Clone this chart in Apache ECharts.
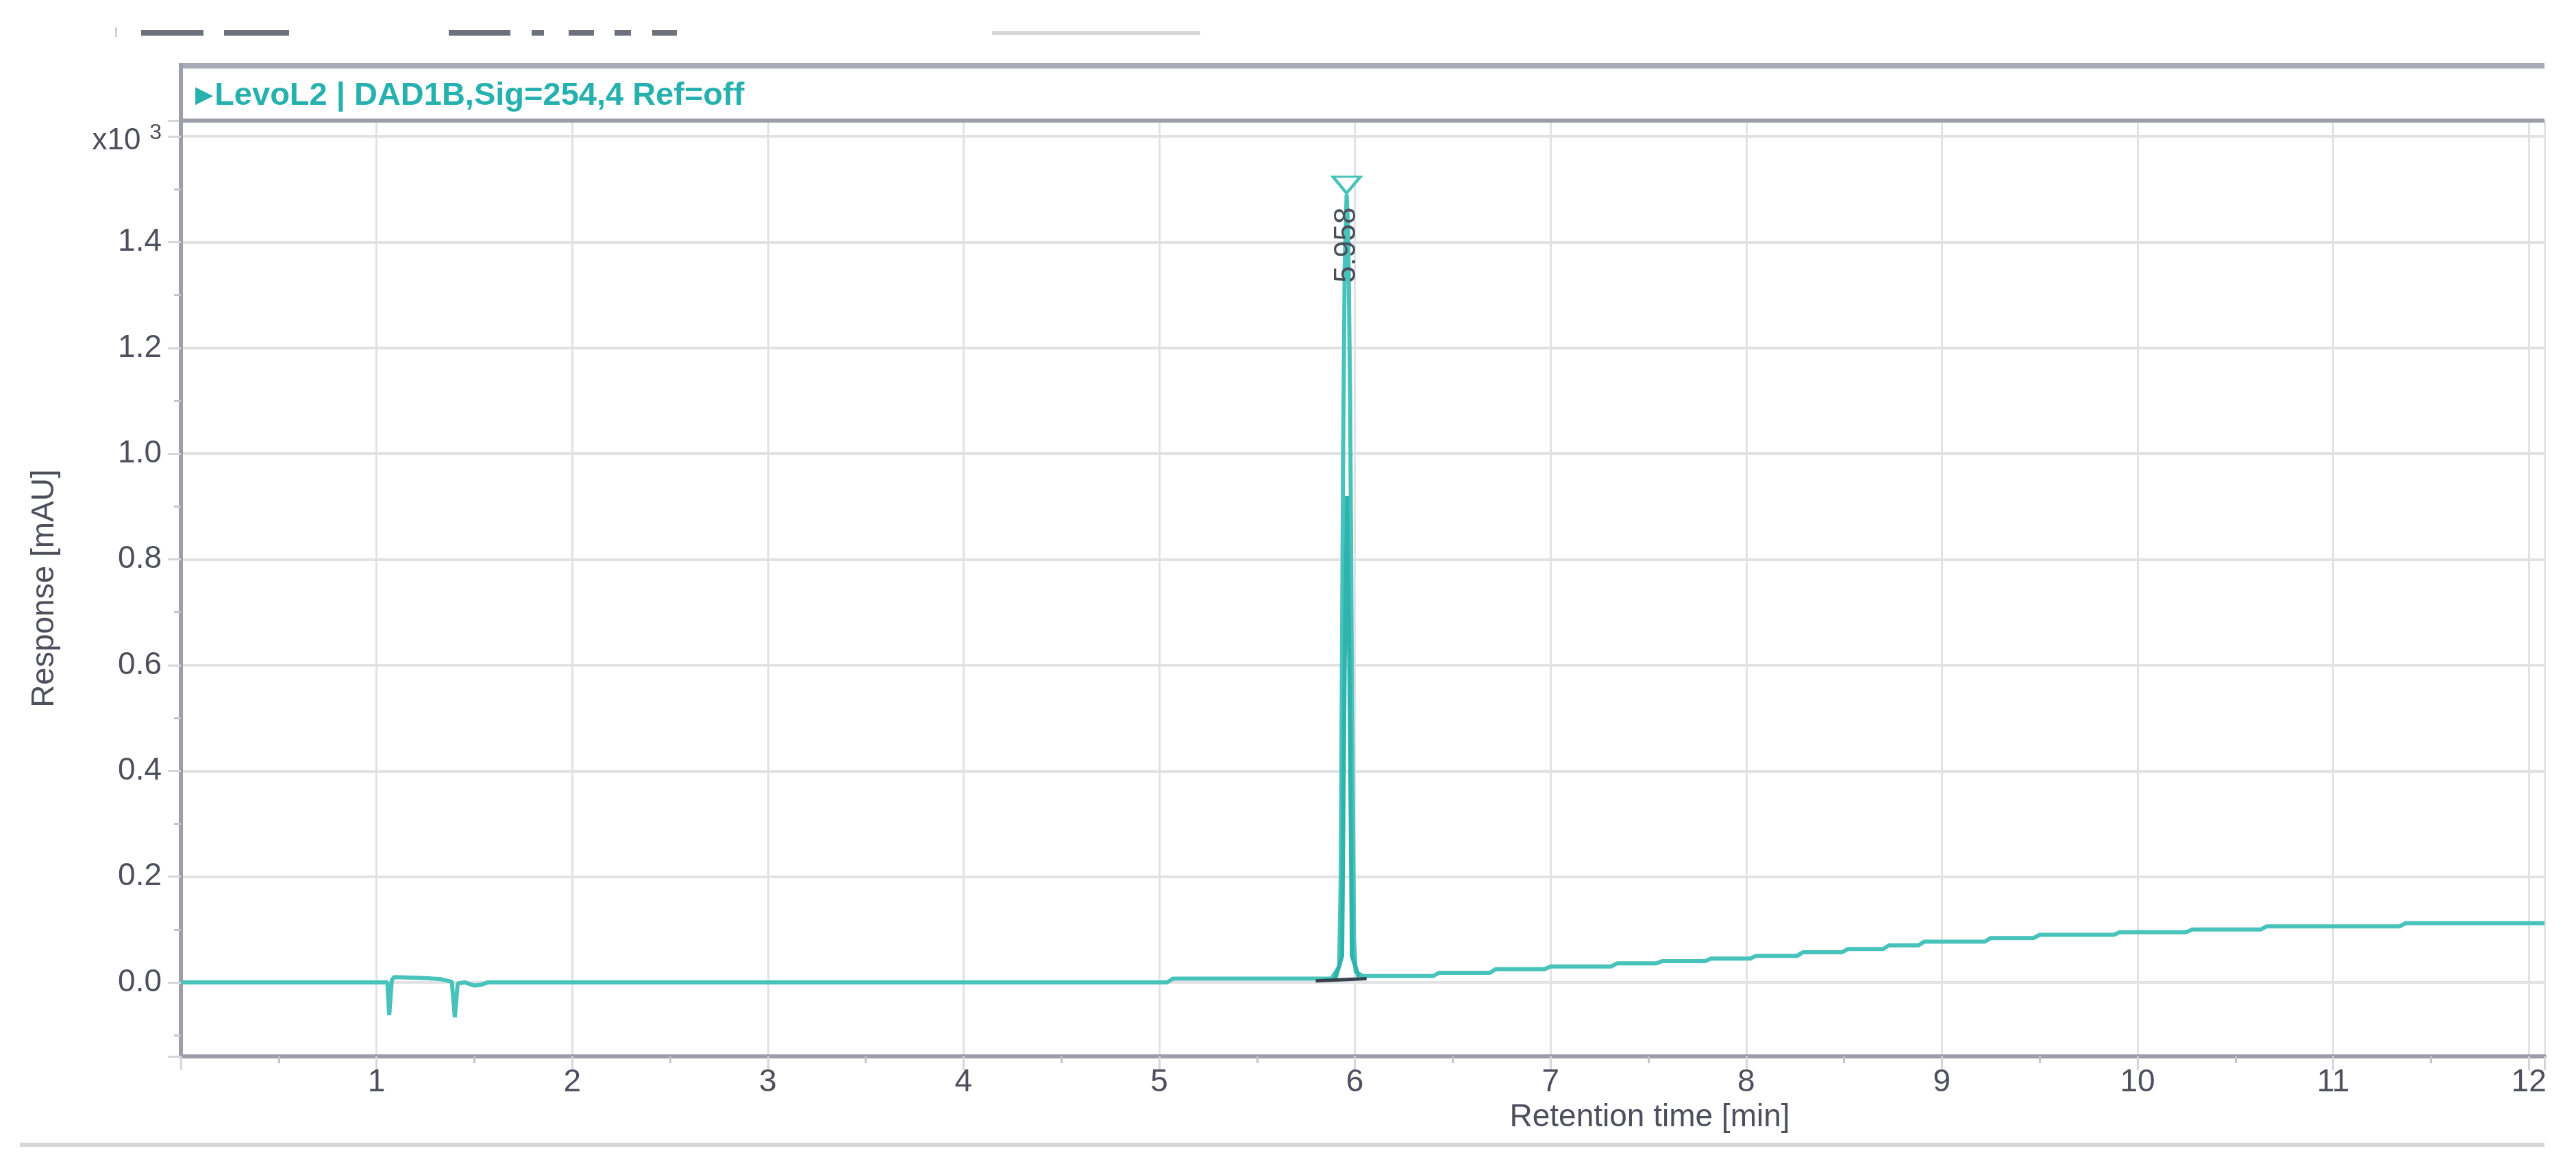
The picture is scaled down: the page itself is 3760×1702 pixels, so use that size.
<!DOCTYPE html>
<html>
<head>
<meta charset="utf-8">
<title>LevoL2 chromatogram</title>
<script src="https://cdn.jsdelivr.net/npm/echarts@6/dist/echarts.min.js"></script>
<style>
    html, body { margin: 0; padding: 0; background: #fff; }
    #chart { width: 3760px; height: 1702px; }
</style>
</head>
<body>
<div id="chart"></div>
<script>
// signal trace DAD1B, retention time [min] / response [x10^3 mAU]
const traceTime = [
    0, 1.055, 1.065, 1.078, 1.09, 1.25, 1.33, 1.385, 1.40, 1.415,
    1.45, 1.50, 1.53, 1.57, 5.04, 5.07, 5.88, 5.92, 5.928, 5.94,
    5.948, 5.958, 5.966, 5.976, 5.986, 5.996, 6.004, 6.04, 6.40, 6.43,
    6.69, 6.72, 6.97, 7.00, 7.31, 7.34, 7.54, 7.57, 7.79, 7.82,
    8.02, 8.05, 8.26, 8.29, 8.49, 8.52, 8.70, 8.73, 8.88, 8.91,
    9.22, 9.25, 9.47, 9.50, 9.88, 9.91, 10.25, 10.28, 10.63, 10.66,
    11.34, 11.37, 12.08
];
const traceResp = [
    0, 0, -0.062, 0.004, 0.010, 0.008, 0.006, 0.001, -0.066, -0.002,
    0, -0.006, -0.005, 0, 0, 0.007, 0.007, 0.03, 0.2, 1.0,
    1.35, 1.49, 1.42, 1.1, 0.5, 0.08, 0.02, 0.012, 0.012, 0.018,
    0.018, 0.025, 0.025, 0.030, 0.030, 0.036, 0.036, 0.040, 0.040, 0.045,
    0.045, 0.050, 0.050, 0.057, 0.057, 0.063, 0.063, 0.070, 0.070, 0.077,
    0.077, 0.084, 0.084, 0.090, 0.090, 0.095, 0.095, 0.100, 0.100, 0.106,
    0.106, 0.112, 0.112
];
// inner (overlaid) peak trace
const overlayTime = [5.90, 5.935, 5.948, 5.960, 5.972, 5.985, 6.02];
const overlayResp = [0.007, 0.05, 0.6, 0.92, 0.6, 0.05, 0.010];
// integration baseline under the peak
const integTime = [5.80, 6.06];
const integResp = [0.003, 0.007];

const peakTime = 5.958;
const peakApex = 1.49;
const peakLabel = '5.958';

const xMin = 0, xMax = 12.08;
const yMin = -0.14, yMax = 1.63;
const yMultiplierValue = 1.6; // this tick shows "x10 3" instead of a number

const titleText = 'LevoL2 | DAD1B,Sig=254,4 Ref=off';
const xName = 'Retention time [min]';
const yName = 'Response [mAU]';

function zip(a, b) {
    return a.map((v, i) => [v, b[i]]);
}

const font = '"Liberation Sans", Arial, sans-serif';
const teal = '#47c3bb';
const labelColor = '#4e4f5c';
const axisGray = '#9d9dab';
const gridGray = '#e2e2e4';

const chart = echarts.init(document.getElementById('chart'));

const option = {
    animation: false,
    backgroundColor: '#ffffff',
    textStyle: { fontFamily: font },
    title: {
        text: '{tri|▶}{t|' + titleText + '}',
        left: 280,
        top: 112,
        textStyle: {
            rich: {
                tri: { fontSize: 34, color: '#27b1ae', fontFamily: 'DejaVu Sans', padding: [0, 2, 0, 0] },
                t: { fontSize: 47, color: '#27b1ae', fontFamily: font, fontWeight: 'bold' }
            }
        }
    },
    grid: {
        left: 264,
        right: 46,
        top: 176,
        bottom: 160,
        containLabel: false
    },
    xAxis: {
        type: 'value',
        min: xMin,
        max: xMax,
        interval: 1,
        name: xName,
        nameLocation: 'middle',
        nameGap: 62,
        nameTextStyle: {
            fontSize: 46,
            color: labelColor,
            fontFamily: font,
            padding: [0, 0, 0, 838]
        },
        axisLine: { show: true, onZero: false, lineStyle: { color: axisGray, width: 6 } },
        axisTick: { show: true, length: 20, lineStyle: { color: '#d6d6da', width: 3 } },
        minorTick: { show: true, splitNumber: 2, length: 10, lineStyle: { color: '#c4c4cc', width: 3 } },
        axisLabel: {
            margin: 15,
            fontSize: 46,
            color: labelColor,
            fontFamily: font,
            showMinLabel: false,
            showMaxLabel: false,
            formatter: function (v) {
                return (v > 0 && Math.abs(v - Math.round(v)) < 1e-6) ? String(Math.round(v)) : '';
            }
        },
        splitLine: { show: true, lineStyle: { color: gridGray, width: 3 } }
    },
    yAxis: {
        type: 'value',
        min: yMin,
        max: yMax,
        splitNumber: 9,
        name: yName,
        nameLocation: 'middle',
        nameRotate: 90,
        nameGap: 176,
        nameTextStyle: { fontSize: 46, color: labelColor, fontFamily: font },
        axisLine: { show: true, onZero: false, lineStyle: { color: axisGray, width: 6 } },
        axisTick: { show: true, length: 19, lineStyle: { color: '#d6d6da', width: 3 } },
        minorTick: { show: true, splitNumber: 2, length: 10, lineStyle: { color: '#c4c4cc', width: 3 } },
        axisLabel: {
            margin: 28,
            fontSize: 46,
            color: labelColor,
            fontFamily: font,
            showMinLabel: false,
            showMaxLabel: false,
            formatter: function (v) {
                if (Math.abs(v - yMultiplierValue) < 1e-6) return '{a|x10} {s|3}';
                if (v < -1e-6 || v > yMultiplierValue + 1e-6) return '';
                return v.toFixed(1);
            },
            rich: {
                a: { fontSize: 44, color: labelColor, fontFamily: font, padding: [14, 0, 0, 0] },
                s: { fontSize: 32, color: labelColor, fontFamily: font, padding: [0, 0, 10, 0] }
            }
        },
        splitLine: { show: true, lineStyle: { color: gridGray, width: 4 } }
    },
    graphic: [
        // cut-off toolbar remnants at the very top
        { type: 'rect', shape: { x: 168, y: 40, width: 3, height: 14 }, style: { fill: '#d0d0d4' } },
        { type: 'rect', shape: { x: 206, y: 44, width: 91, height: 8 }, style: { fill: '#6d717c' } },
        { type: 'rect', shape: { x: 327, y: 44, width: 95, height: 8 }, style: { fill: '#6d717c' } },
        { type: 'rect', shape: { x: 655, y: 44, width: 90, height: 8 }, style: { fill: '#6d717c' } },
        { type: 'rect', shape: { x: 776, y: 44, width: 18, height: 8 }, style: { fill: '#6d717c' } },
        { type: 'rect', shape: { x: 830, y: 44, width: 37, height: 8 }, style: { fill: '#6d717c' } },
        { type: 'rect', shape: { x: 897, y: 44, width: 24, height: 8 }, style: { fill: '#6d717c' } },
        { type: 'rect', shape: { x: 952, y: 44, width: 36, height: 8 }, style: { fill: '#6d717c' } },
        { type: 'rect', shape: { x: 1448, y: 45, width: 304, height: 6 }, style: { fill: '#d8d8dc' } },
        // signal title box
        { type: 'rect', shape: { x: 261, y: 92, width: 3453, height: 8 }, style: { fill: '#aaaab6' } },
        { type: 'rect', shape: { x: 261, y: 92, width: 6, height: 86 }, style: { fill: axisGray } },
        { type: 'rect', shape: { x: 261, y: 173, width: 3453, height: 6 }, style: { fill: '#9e9eaa' }, z: 10 },
        // bottom separator
        { type: 'rect', shape: { x: 29, y: 1668, width: 3685, height: 6 }, style: { fill: '#d6d6da' } }
    ],
    series: [
        {
            name: 'DAD1B',
            type: 'line',
            data: zip(traceTime, traceResp),
            showSymbol: false,
            symbol: 'none',
            lineStyle: { color: teal, width: 6 },
            z: 3,
            markPoint: {
                silent: true,
                data: [
                    {
                        coord: [peakTime, peakApex],
                        symbol: 'triangle',
                        symbolRotate: 180,
                        symbolSize: [40, 24],
                        symbolOffset: [0, -14],
                        itemStyle: { color: '#ffffff', borderColor: teal, borderWidth: 4 },
                        label: { show: false }
                    },
                    {
                        coord: [peakTime, peakApex - 0.085],
                        symbol: 'rect',
                        symbolSize: 1,
                        itemStyle: { color: 'rgba(0,0,0,0)' },
                        label: {
                            show: true,
                            formatter: peakLabel,
                            position: 'inside',
                            rotate: 90,
                            offset: [-8, 0],
                            fontSize: 44,
                            color: '#4a4f5a',
                            fontFamily: font
                        }
                    }
                ]
            }
        },
        {
            name: 'overlay',
            type: 'line',
            data: zip(overlayTime, overlayResp),
            showSymbol: false,
            symbol: 'none',
            lineStyle: { color: '#2fb3ad', width: 6 },
            z: 4
        },
        {
            name: 'baseline',
            type: 'line',
            data: zip(integTime, integResp),
            showSymbol: false,
            symbol: 'none',
            lineStyle: { color: '#36434f', width: 5 },
            z: 5
        }
    ]
};

chart.setOption(option);
</script>
</body>
</html>
